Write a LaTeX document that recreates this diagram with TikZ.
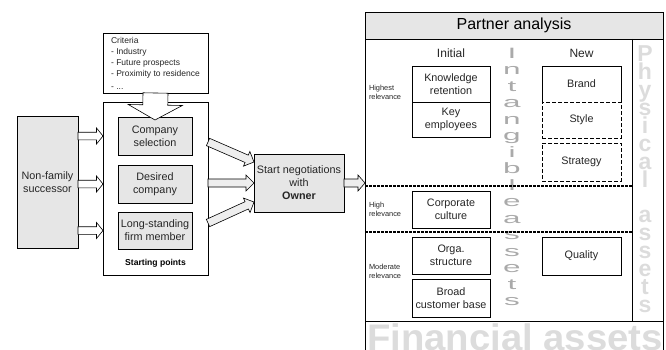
\documentclass[tikz,border=0pt]{standalone}
\usepackage{fontspec}
\setmainfont{Liberation Sans}
\usetikzlibrary{calc}
\definecolor{boxgray}{HTML}{E6E6E6}
\definecolor{arrgray}{HTML}{EEEEEE}
\definecolor{midgray}{HTML}{AAAAAA}
\definecolor{litegray}{HTML}{DCDCDC}
% block arrow: [style]{start}{end}{half shaft}{half head}{head length}
\newcommand{\myblockarrow}[6][]{%
  \coordinate (ba-s) at (#2);
  \coordinate (ba-e) at (#3);
  \coordinate (ba-m) at ($(ba-e)!#6!(ba-s)$);
  \path[blockarr,#1] ($(ba-s)!#4!90:(ba-e)$) -- ($(ba-m)!#4!-90:(ba-s)$) -- ($(ba-m)!#5!-90:(ba-s)$) -- (ba-e) -- ($(ba-m)!#5!90:(ba-s)$) -- ($(ba-m)!#4!90:(ba-s)$) -- ($(ba-s)!#4!-90:(ba-e)$) -- cycle;
}
\begin{document}
\lineskiplimit=-50pt
\begin{tikzpicture}[x=1pt,y=-1pt,
  every node/.style={inner sep=0pt, outer sep=0pt},
  txt/.style={font=\fontsize{10.8}{13}\selectfont, text=black!85, align=center},
  gbox/.style={txt, draw, line width=0.7pt, fill=boxgray},
  wbox/.style={txt, draw, line width=0.7pt, fill=white},
  dbox/.style={txt, draw, line width=0.9pt, dash pattern=on 4pt off 2pt},
  relv/.style={font=\fontsize{7.4}{9}\selectfont, align=left, anchor=west, text=black!85},
  sepline/.style={line width=1.1pt, dash pattern=on 3pt off 1pt},
  blockarr/.style={draw, line width=0.6pt, fill=white},
  garr/.style={fill=arrgray},
]
\clip (0,0) rectangle (666,350);

% ---------- left part ----------
\node[gbox, minimum width=61pt, minimum height=132pt] (nf) at (47.5,182) {Non-family\\successor};
\node[wbox, minimum width=105pt, minimum height=60pt, font=\fontsize{8.5}{11}\selectfont, align=left] (crit) at (155.5,63)
  {Criteria\\- Industry\\- Future prospects\\- Proximity to residence\\[2pt]- ...};
\node[wbox, minimum width=105pt, minimum height=173pt] (sp) at (155.5,188.5) {};
\node[font=\bfseries\fontsize{8.6}{10}\selectfont] (spl) at (155.5,263) {Starting points};
\node[gbox, minimum width=74pt, minimum height=38pt] (cs) at (155,136) {Company\\selection};
\node[gbox, minimum width=74pt, minimum height=38pt] (dc) at (155,184) {Desired\\company};
\node[gbox, minimum width=74pt, minimum height=37pt] (lf) at (155,230.5) {Long-standing\\firm member};
\node[gbox, minimum width=90pt, minimum height=58pt] (neg) at (299,183) {Start negotiations\\with\\\textbf{Owner}};

% ---------- partner analysis ----------
\node[draw, line width=0.7pt, minimum width=298pt, minimum height=350pt] (pa) at (514,187) {};
\node[draw, line width=0.7pt, fill=boxgray, minimum width=298pt, minimum height=27pt, font=\fontsize{16}{18}\selectfont] (title) at (514,25.5) {Partner analysis};
\draw[line width=0.7pt] (632,39) -- (632,321);
\draw[line width=0.7pt] (365,321) -- (663,321);

\node[font=\fontsize{23}{17.9}\selectfont\bfseries, text=litegray, align=center, anchor=north] (phy) at (645,46)
  {P\\h\\y\\s\\i\\c\\a\\l\\\mbox{}\\a\\s\\s\\e\\t\\s};
\node[font=\fontsize{37}{40}\selectfont\bfseries, text=litegray, anchor=base west, xscale=1.035, transform shape] (fin) at (367,350) {Financial assets};
\node[font=\fontsize{15}{16.5}\selectfont, text=midgray, align=center, anchor=north, xscale=2.1, transform shape] (ia) at (512,48)
  {I\\n\\t\\a\\n\\g\\i\\b\\l\\e\\a\\s\\s\\e\\t\\s};

\node[txt, font=\fontsize{12}{14}\selectfont] (hi) at (451,53) {Initial};
\node[txt, font=\fontsize{12}{14}\selectfont] (hn) at (581.5,53) {New};

\node[relv] (r1) at (369,92.5) {Highest\\relevance};
\node[relv] (r2) at (369,209) {High\\relevance};
\node[relv] (r3) at (369,271) {Moderate\\relevance};

\node[wbox, minimum width=78pt, minimum height=36pt] (kr) at (451,84) {Knowledge\\retention};
\node[wbox, minimum width=78pt, minimum height=35pt] (ke) at (451,119.5) {Key\\employees};
\node[wbox, minimum width=78pt, minimum height=37pt] (cc) at (451,209.5) {Corporate\\culture};
\node[wbox, minimum width=78pt, minimum height=37pt] (os) at (451,255.5) {Orga.\\structure};
\node[wbox, minimum width=78pt, minimum height=38pt] (bc) at (451,298) {Broad\\customer base};

\node[txt, minimum width=79pt, minimum height=36pt] (br) at (581.5,84) {Brand};
\draw[line width=0.7pt] (br.south west) -- (br.north west) -- (br.north east) -- (br.south east);
\node[dbox, minimum width=79pt, minimum height=36pt] (st) at (581.5,120) {Style};
\node[dbox, minimum width=79pt, minimum height=38pt] (sg) at (581.5,162) {Strategy};
\node[wbox, minimum width=79pt, minimum height=38pt] (qu) at (581.5,256) {Quality};

\draw[sepline] (365,186) -- (632,186);
\draw[sepline] (365,232) -- (632,232);

% ---------- block arrows ----------
\myblockarrow{crit.south}{$(cs.north)+(0,3)$}{12.5pt}{27pt}{15pt}
\myblockarrow{nf.east |- cs}{sp.west |- cs}{3.8pt}{8pt}{6.5pt}
\myblockarrow{nf.east |- dc}{sp.west |- dc}{3.8pt}{8pt}{6.5pt}
\myblockarrow{nf.east |- lf}{sp.west |- lf}{3.8pt}{8pt}{6.5pt}
\myblockarrow[garr]{$(sp.east)+(0,-46.5)$}{$(neg.west)+(0,-21)$}{4pt}{8pt}{8pt}
\myblockarrow[garr]{sp.east |- neg}{neg.west}{4pt}{8pt}{8pt}
\myblockarrow[garr]{$(sp.east)+(0,34.5)$}{$(neg.west)+(0,19)$}{4pt}{8pt}{8pt}
\myblockarrow[garr]{neg.east}{pa.west |- neg.east}{4pt}{8pt}{7pt}
\end{tikzpicture}
\end{document}
